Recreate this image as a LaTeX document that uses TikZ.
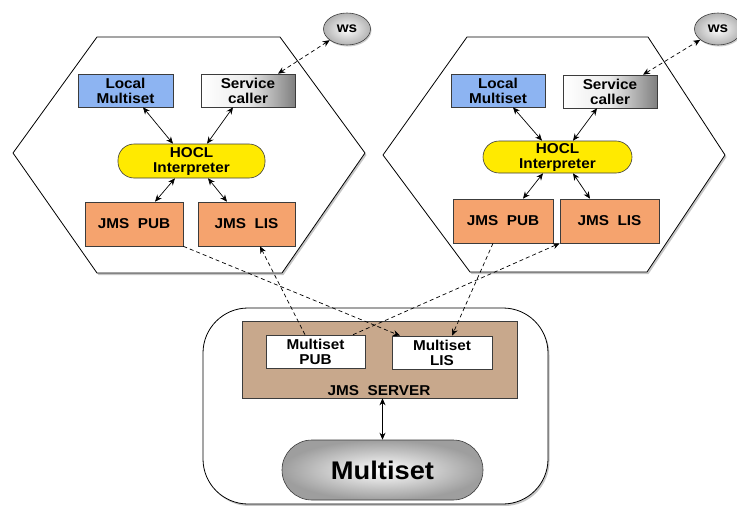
\documentclass[tikz,border=0pt]{standalone}
\usepackage{fontspec}
\setmainfont{Liberation Sans}[FakeStretch=1.07]
\usetikzlibrary{arrows.meta,shadows,shapes.geometric}
\definecolor{mblue}{RGB}{141,180,242}
\definecolor{morange}{RGB}{245,163,110}
\definecolor{myellow}{RGB}{255,234,0}
\definecolor{mbrown}{RGB}{200,168,140}
\definecolor{edge}{RGB}{60,60,60}
\begin{document}
\begin{tikzpicture}[x=1pt,y=-1pt,
  hexa/.style={draw=black,line width=0.8pt,fill=white,drop shadow={shadow xshift=1.5pt,shadow yshift=-2pt,opacity=0.45}},
  lbl/.style={draw=edge,line width=0.6pt,align=center,font=\bfseries\fontsize{14.3}{15}\selectfont,inner sep=0pt},
  pill/.style={lbl,rounded corners=16pt},
  wsball/.style={lbl,ellipse,minimum width=47pt,minimum height=32pt,shading=radial,inner color=white,outer color=black!30,drop shadow={shadow xshift=1pt,shadow yshift=-1.5pt,opacity=0.4}},
  bia/.style={{Stealth[length=7pt,width=6pt]}-{Stealth[length=7pt,width=6pt]},line width=0.7pt},
  dsh/.style={-{Stealth[length=7pt,width=6pt]},line width=0.7pt,dash pattern=on 4pt off 3pt},
  dshb/.style={dsh,{Stealth[length=7pt,width=6pt]}-{Stealth[length=7pt,width=6pt]}}]
\useasboundingbox (0,0) rectangle (737,506);
% hexagons
\path[hexa] (97,37) -- (280,37) -- (365,153) -- (282,273) -- (97,273) -- (13,153) -- cycle;
\path[hexa] (467,37) -- (648,37) -- (725,155) -- (647,272) -- (470,272) -- (383,155) -- cycle;
% bottom container
\path[hexa,rounded corners=45pt] (203,308) rectangle (548,504);
% ws
\node[wsball] (ws1) at (347,29) {ws};
\node[wsball] (ws2) at (718,29) {ws};
% left node
\node[lbl,fill=mblue,minimum width=95pt,minimum height=33pt] (lm1) at (125.5,90.5) {Local\\Multiset};
\node[lbl,left color=white,right color=black!50,middle color=black!8,minimum width=94pt,minimum height=33pt] (sc1) at (248,90.5) {Service\\caller};
\node[pill,fill=myellow,minimum width=147pt,minimum height=34pt] (ho1) at (191.5,161) {HOCL\\Interpreter};
\node[lbl,fill=morange,minimum width=98pt,minimum height=44pt] (pub1) at (134,224) {JMS\ \ PUB};
\node[lbl,fill=morange,minimum width=97pt,minimum height=44pt] (lis1) at (246.5,224) {JMS\ \ LIS};
% right node
\node[lbl,fill=mblue,minimum width=94pt,minimum height=33pt] (lm2) at (498,90.5) {Local\\Multiset};
\node[lbl,left color=white,right color=black!50,middle color=black!8,minimum width=94pt,minimum height=33pt] (sc2) at (610,91.5) {Service\\caller};
\node[pill,fill=myellow,minimum width=149pt,minimum height=32pt] (ho2) at (557.5,157) {HOCL\\Interpreter};
\node[lbl,fill=morange,minimum width=100pt,minimum height=44pt] (pub2) at (503,221) {JMS\ \ PUB};
\node[lbl,fill=morange,minimum width=99pt,minimum height=44pt] (lis2) at (609.5,221) {JMS\ \ LIS};
% server
\node[lbl,fill=mbrown,minimum width=275pt,minimum height=77pt] (srv) at (379.5,359.5) {};
\node[font=\bfseries\fontsize{14.3}{15}\selectfont,inner sep=0pt] (srvl) at (379,391) {JMS\ \ SERVER};
\node[lbl,fill=white,minimum width=99pt,minimum height=33pt] (mpub) at (315.5,351.5) {Multiset\\PUB};
\node[lbl,fill=white,minimum width=100pt,minimum height=33pt] (mlis) at (442,352.5) {Multiset\\LIS};
\node[lbl,rounded corners=30pt,shading=radial,inner color=white,outer color=black!38,minimum width=201pt,minimum height=60pt,font=\bfseries\fontsize{25.5}{27}\selectfont] (mset) at (382.5,470) {Multiset};
% solid arrows left
\draw[bia] ([xshift=17.5pt]lm1.south) -- ([xshift=-18.5pt]ho1.north);
\draw[bia] ([xshift=-15pt]sc1.south) -- ([xshift=15.5pt]ho1.north);
\draw[bia] ([xshift=-16.5pt]ho1.south) -- ([xshift=21pt]pub1.north);
\draw[bia] ([xshift=16.5pt]ho1.south) -- ([xshift=-19.5pt]lis1.north);
% solid arrows right
\draw[bia] ([xshift=15pt]lm2.south) -- ([xshift=-15.5pt]ho2.north);
\draw[bia] ([xshift=-13pt]sc2.south) -- ([xshift=15.5pt]ho2.north);
\draw[bia] ([xshift=-14.5pt]ho2.south) -- ([xshift=20pt]pub2.north);
\draw[bia] ([xshift=15.5pt]ho2.south) -- ([xshift=-19.5pt]lis2.north);
% ws
\draw[dshb] ([xshift=30pt]sc1.north) -- (ws1);
\draw[dshb] ([xshift=33pt]sc2.north) -- (ws2);
% server link
\draw[bia] (mset.north |- srv.south) -- (mset.north);
% dashed cross links
\draw[dsh] (pub1.south east) -- ([xshift=-42pt]mlis.north);
\draw[dsh] ([xshift=-10.5pt]mpub.north) -- ([xshift=13.5pt]lis1.south);
\draw[dsh] ([xshift=37.5pt]mpub.north) -- (lis2.south west);
\draw[dsh] ([xshift=-10pt]pub2.south) -- ([xshift=10pt]mlis.north);
\end{tikzpicture}
\end{document}
